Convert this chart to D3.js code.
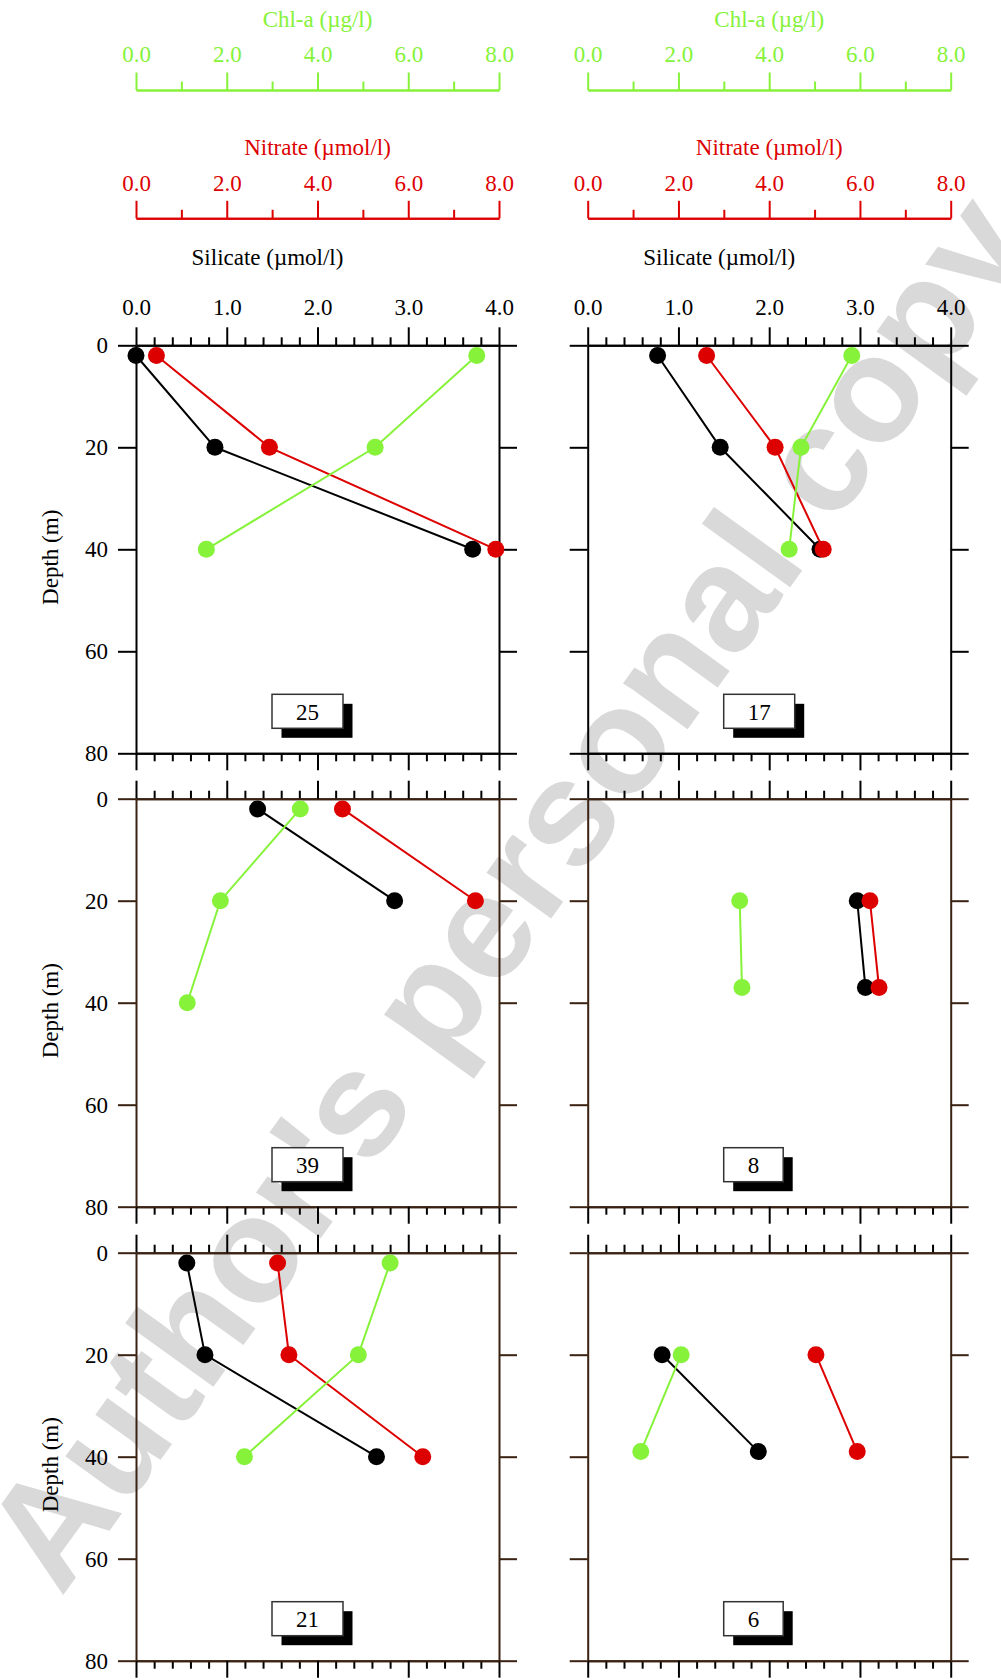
<!DOCTYPE html>
<html><head><meta charset="utf-8">
<script src="https://cdn.jsdelivr.net/npm/d3@7"></script>
<style>body{margin:0;background:#fff} svg{display:block}</style>
</head><body>
<svg id="chart" width="1001" height="1680"></svg>
<script>
// ---------- data ----------
const stations = ["25", "17", "39", "8", "21", "6"];

const depth_25 = [2, 20, 40];
const silicate_25 = [0.0, 0.87, 3.71];
const nitrate_25 = [0.45, 2.94, 7.93];
const chla_25 = [7.51, 5.27, 1.55];

const depth_17 = [2, 20, 40];
const silicate_17 = [0.77, 1.46, 2.56];
const nitrate_17 = [2.62, 4.13, 5.19];
const chla_17 = [5.82, 4.70, 4.44];

const depth_39 = [2, 20, 40];
const silicate_39 = [1.34, 2.85, null];
const nitrate_39 = [4.55, 7.48, null];
const chla_39 = [3.62, 1.86, 1.13];

const depth_8 = [20, 37];
const silicate_8 = [2.97, 3.06];
const nitrate_8 = [6.22, 6.42];
const chla_8 = [3.35, 3.40];

const depth_21 = [2, 20, 40];
const silicate_21 = [0.56, 0.76, 2.65];
const nitrate_21 = [3.12, 3.37, 6.32];
const chla_21 = [5.60, 4.90, 2.39];

const depth_6 = [20, 39];
const silicate_6 = [0.82, 1.88];
const nitrate_6 = [5.03, 5.94];
const chla_6 = [2.06, 1.17];

const silicateTicks = [0, 1, 2, 3, 4];
const silicateMinor = [0.2, 0.4, 0.6, 0.8, 1.2, 1.4, 1.6, 1.8, 2.2, 2.4, 2.6, 2.8, 3.2, 3.4, 3.6, 3.8];
const nutTicks = [0, 2, 4, 6, 8];
const nutMinor = [1, 3, 5, 7];
const depthTicks = [0, 20, 40, 60, 80];

const titleChla = "Chl-a (µg/l)";
const titleNitrate = "Nitrate (µmol/l)";
const titleSilicate = "Silicate (µmol/l)";
const titleDepth = "Depth (m)";
const watermark = "Author's personal copy";

// ---------- build table ----------
const table = {
  "25": {depth: depth_25, si: silicate_25, no3: nitrate_25, chl: chla_25},
  "17": {depth: depth_17, si: silicate_17, no3: nitrate_17, chl: chla_17},
  "39": {depth: depth_39, si: silicate_39, no3: nitrate_39, chl: chla_39},
  "8":  {depth: depth_8,  si: silicate_8,  no3: nitrate_8,  chl: chla_8},
  "21": {depth: depth_21, si: silicate_21, no3: nitrate_21, chl: chla_21},
  "6":  {depth: depth_6,  si: silicate_6,  no3: nitrate_6,  chl: chla_6}
};

// ---------- layout ----------
const FONT = "'Liberation Serif', 'Times New Roman', Times, serif";
const FS = 23;
const GREEN = "#86f23a", RED = "#dd0000", BLACK = "#000", BROWN = "#3a2212";
const W = 363, H = 408;
const colX = [136, 587.7];
const rowY = [345.3, 798.7, 1252.7];

const svg = d3.select("#chart");

// watermark (under the chart)
svg.append("text")
  .attr("transform", "translate(61,1598) rotate(-54.2)")
  .attr("font-family", "'Liberation Sans', Arial, Helvetica, sans-serif")
  .attr("font-weight", "bold")
  .attr("font-size", 150)
  .attr("fill", "#d9d9d9")
  .text(watermark);

const xSil = d3.scaleLinear().domain([0, 4]).range([0, W]);
const xNut = d3.scaleLinear().domain([0, 8]).range([0, W]);
const yDep = d3.scaleLinear().domain([0, 80]).range([0, H]);
const fmt1 = d3.format(".1f");

function style(g, lineColor, textColor, tickColor) {
  g.attr("font-family", null).attr("font-size", null);
  g.selectAll("path.domain").attr("stroke", lineColor).attr("stroke-width", 2);
  g.selectAll(".tick line").attr("stroke", tickColor || lineColor).attr("stroke-width", 2);
  g.selectAll(".tick text").attr("fill", textColor || lineColor)
    .attr("font-family", FONT).attr("font-size", FS);
  return g;
}

// ---------- header axes ----------
colX.forEach(cx => {
  // Chl-a
  const gC = svg.append("g").attr("transform", `translate(${cx},90)`);
  style(gC.append("g").call(d3.axisTop(xNut).tickValues(nutMinor).tickSize(8.5).tickSizeOuter(0).tickFormat("")), GREEN);
  style(gC.append("g").call(d3.axisTop(xNut).tickValues(nutTicks).tickSize(17.5).tickSizeOuter(0).tickPadding(10.2).tickFormat(fmt1)), GREEN);
  svg.append("text").attr("x", cx + W / 2).attr("y", 26.7).attr("text-anchor", "middle")
    .attr("font-family", FONT).attr("font-size", FS).attr("fill", GREEN).text(titleChla);

  // Nitrate
  const gN = svg.append("g").attr("transform", `translate(${cx},218.3)`);
  style(gN.append("g").call(d3.axisTop(xNut).tickValues(nutMinor).tickSize(8.5).tickSizeOuter(0).tickFormat("")), RED);
  style(gN.append("g").call(d3.axisTop(xNut).tickValues(nutTicks).tickSize(17.5).tickSizeOuter(0).tickPadding(10.2).tickFormat(fmt1)), RED);
  svg.append("text").attr("x", cx + W / 2).attr("y", 155).attr("text-anchor", "middle")
    .attr("font-family", FONT).attr("font-size", FS).attr("fill", RED).text(titleNitrate);

  // Silicate title
  svg.append("text").attr("x", cx + W / 2 - 50).attr("y", 265).attr("text-anchor", "middle")
    .attr("font-family", FONT).attr("font-size", FS).attr("fill", BLACK).text(titleSilicate);
});

// ---------- panels ----------
stations.forEach((id, i) => {
  const col = i % 2, row = Math.floor(i / 2);
  const px = colX[col], py = rowY[row];
  const frame = row === 0 ? BLACK : BROWN;
  const g = svg.append("g").attr("transform", `translate(${px},${py})`);

  // top silicate axis
  style(g.append("g").call(d3.axisTop(xSil).tickValues(silicateMinor).tickSize(8).tickSizeOuter(0).tickFormat("")), frame, BLACK, BLACK);
  style(g.append("g").call(d3.axisTop(xSil).tickValues(silicateTicks).tickSize(18).tickSizeOuter(0).tickPadding(12.3)
    .tickFormat(row === 0 ? fmt1 : "")), frame, BLACK, BLACK);

  // bottom axis
  const gb = g.append("g").attr("transform", `translate(0,${H})`);
  style(gb.append("g").call(d3.axisBottom(xSil).tickValues(silicateMinor).tickSize(8).tickSizeOuter(0).tickFormat("")), frame, BLACK, BLACK);
  style(gb.append("g").call(d3.axisBottom(xSil).tickValues(silicateTicks).tickSize(17).tickSizeOuter(0).tickFormat("")), frame, BLACK, BLACK);

  // depth axes
  style(g.append("g").call(d3.axisLeft(yDep).tickValues(depthTicks).tickSize(18).tickSizeOuter(0).tickPadding(10)
    .tickFormat(col === 0 ? d3.format("d") : "")), frame, BLACK, frame);
  style(g.append("g").attr("transform", `translate(${W},0)`)
    .call(d3.axisRight(yDep).tickValues(depthTicks).tickSize(18).tickSizeOuter(0).tickFormat("")), frame, BLACK, frame);

  if (col === 0) {
    svg.append("text")
      .attr("transform", `translate(58,${py + H / 2 + 8}) rotate(-90)`)
      .attr("text-anchor", "middle")
      .attr("font-family", FONT).attr("font-size", FS).attr("fill", BLACK)
      .text(titleDepth);
  }

  // data
  const d = table[id];
  const series = [
    {key: "si", x: xSil, color: BLACK},
    {key: "no3", x: xNut, color: RED},
    {key: "chl", x: xNut, color: GREEN}
  ];
  series.forEach(s => {
    const pts = d.depth.map((dep, k) => ({dep, v: d[s.key][k]})).filter(p => p.v != null);
    const line = d3.line().x(p => s.x(p.v)).y(p => yDep(p.dep));
    g.append("path").datum(pts).attr("d", line)
      .attr("fill", "none").attr("stroke", s.color).attr("stroke-width", 2);
    g.selectAll(null).data(pts).enter().append("circle")
      .attr("cx", p => s.x(p.v)).attr("cy", p => yDep(p.dep)).attr("r", 8.5)
      .attr("fill", s.color);
  });

  // station label box with shadow
  const lb = g.append("g").attr("transform", `translate(136,349)`);
  const shadow = lb.append("rect").attr("fill", "#000");
  const box = lb.append("rect").attr("fill", "#fff").attr("stroke", "#333").attr("stroke-width", 1.5);
  const t = lb.append("text").attr("font-family", FONT).attr("font-size", FS)
    .attr("text-anchor", "middle").attr("y", 25.7).attr("fill", BLACK).text(id);
  const bw = t.node().getComputedTextLength() + 48;
  t.attr("x", bw / 2);
  box.attr("x", 0).attr("y", 0).attr("width", bw).attr("height", 34);
  shadow.attr("x", 9.5).attr("y", 9.5).attr("width", bw).attr("height", 34);
});
</script>
</body></html>
